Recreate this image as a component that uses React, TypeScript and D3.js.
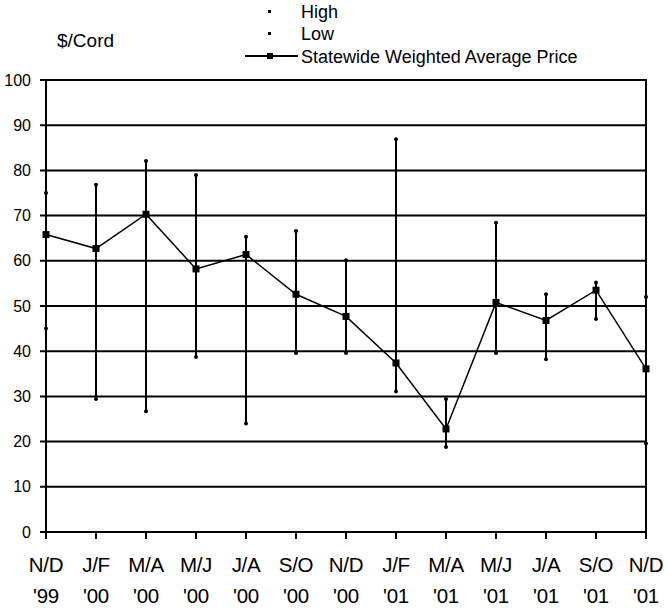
import { useEffect, useRef } from 'react';
import * as d3 from 'd3';

const periods = ['N/D', 'J/F', 'M/A', 'M/J', 'J/A', 'S/O', 'N/D', 'J/F', 'M/A', 'M/J', 'J/A', 'S/O', 'N/D'];
const years = ["'99", "'00", "'00", "'00", "'00", "'00", "'00", "'01", "'01", "'01", "'01", "'01", "'01"];
const highValues = [75, 76.8, 82.1, 79, 65.3, 66.6, 60.1, 86.9, 29.4, 68.4, 52.6, 55.2, 52];
const lowValues = [45, 29.4, 26.7, 38.7, 24, 39.6, 39.6, 31.1, 18.8, 39.6, 38.2, 47.1, 19.6];
const avgValues = [65.8, 62.7, 70.3, 58.2, 61.4, 52.6, 47.7, 37.4, 22.8, 50.8, 46.8, 53.5, 36.1];
const yTicks = [0, 10, 20, 30, 40, 50, 60, 70, 80, 90, 100];

export default function App() {
  const svgRef = useRef<SVGSVGElement>(null);

  useEffect(() => {
    if (!svgRef.current) return;
    const svg = d3.select(svgRef.current);
    svg.selectAll('*').remove();

    const font = '"Liberation Sans", Arial, sans-serif';
    const left = 46, right = 646, top = 80, bottom = 532;

    const x = d3.scalePoint<number>()
      .domain(periods.map((_, i) => i))
      .range([left, right]);
    const y = d3.scaleLinear().domain([0, 100]).range([bottom, top]);
    const idx = periods.map((_, i) => i);

    // gridlines
    svg.append('g')
      .selectAll('line')
      .data(yTicks)
      .enter().append('line')
      .attr('x1', left - 6)
      .attr('x2', right)
      .attr('y1', d => y(d))
      .attr('y2', d => y(d))
      .attr('stroke', '#000')
      .attr('stroke-width', 2);

    // y labels
    svg.append('g')
      .selectAll('text')
      .data(yTicks)
      .enter().append('text')
      .attr('x', 31)
      .attr('y', d => y(d))
      .attr('dy', '0.35em')
      .attr('text-anchor', 'end')
      .attr('font-family', font)
      .attr('font-size', 16)
      .text(d => d);

    // axes frame
    svg.append('line')
      .attr('x1', left).attr('x2', left)
      .attr('y1', top).attr('y2', bottom + 7)
      .attr('stroke', '#000').attr('stroke-width', 2);
    svg.append('line')
      .attr('x1', right).attr('x2', right)
      .attr('y1', top - 1).attr('y2', bottom + 7)
      .attr('stroke', '#000').attr('stroke-width', 2);

    // x ticks
    svg.append('g')
      .selectAll('line')
      .data(idx)
      .enter().append('line')
      .attr('x1', d => x(d)!)
      .attr('x2', d => x(d)!)
      .attr('y1', bottom)
      .attr('y2', bottom + 7)
      .attr('stroke', '#000')
      .attr('stroke-width', 2);

    // x labels (two lines each)
    const xl = svg.append('g')
      .selectAll('text')
      .data(idx)
      .enter().append('text')
      .attr('text-anchor', 'middle')
      .attr('font-family', font)
      .attr('font-size', 20.5)
      .attr('letter-spacing', '-0.3');
    xl.append('tspan')
      .attr('x', d => x(d)!)
      .attr('y', 572)
      .text(d => periods[d]);
    xl.append('tspan')
      .attr('x', d => x(d)!)
      .attr('y', 603)
      .text(d => years[d]);

    // high-low bars
    svg.append('g')
      .selectAll('line')
      .data(idx)
      .enter().append('line')
      .attr('x1', d => x(d)!)
      .attr('x2', d => x(d)!)
      .attr('y1', d => y(highValues[d]))
      .attr('y2', d => y(lowValues[d]))
      .attr('stroke', '#000')
      .attr('stroke-width', 2);

    const dots = svg.append('g');
    dots.selectAll('.hi')
      .data(idx)
      .enter().append('circle')
      .attr('cx', d => x(d)!)
      .attr('cy', d => y(highValues[d]))
      .attr('r', 2)
      .attr('fill', '#000');
    dots.selectAll('.lo')
      .data(idx)
      .enter().append('circle')
      .attr('cx', d => x(d)!)
      .attr('cy', d => y(lowValues[d]))
      .attr('r', 2)
      .attr('fill', '#000');

    // average line
    const line = d3.line<number>()
      .x(d => x(d)!)
      .y(d => y(avgValues[d]));
    svg.append('path')
      .datum(idx)
      .attr('d', line)
      .attr('fill', 'none')
      .attr('stroke', '#000')
      .attr('stroke-width', 1.5);

    svg.append('g')
      .selectAll('rect')
      .data(idx)
      .enter().append('rect')
      .attr('x', d => x(d)! - 3.5)
      .attr('y', d => y(avgValues[d]) - 3.5)
      .attr('width', 7)
      .attr('height', 7)
      .attr('fill', '#000');

    // unit label
    svg.append('text')
      .attr('x', 57)
      .attr('y', 47)
      .attr('font-family', font)
      .attr('font-size', 19)
      .text('$/Cord');

    // legend
    const lg = svg.append('g').attr('font-family', font).attr('font-size', 18);
    lg.append('rect').attr('x', 268).attr('y', 10).attr('width', 3).attr('height', 3).attr('fill', '#000');
    lg.append('text').attr('x', 301).attr('y', 18).text('High');
    lg.append('rect').attr('x', 268).attr('y', 32).attr('width', 3).attr('height', 3).attr('fill', '#000');
    lg.append('text').attr('x', 301).attr('y', 40).text('Low');
    lg.append('line').attr('x1', 245).attr('x2', 298).attr('y1', 56).attr('y2', 56)
      .attr('stroke', '#000').attr('stroke-width', 2);
    lg.append('rect').attr('x', 267).attr('y', 53).attr('width', 6).attr('height', 6).attr('fill', '#000');
    lg.append('text').attr('x', 301).attr('y', 63).text('Statewide Weighted Average Price');
  }, []);

  return (
    <div style={{ position: 'fixed', left: 0, top: 0, background: '#fff' }}>
      <svg ref={svgRef} width={669} height={609} />
    </div>
  );
}
